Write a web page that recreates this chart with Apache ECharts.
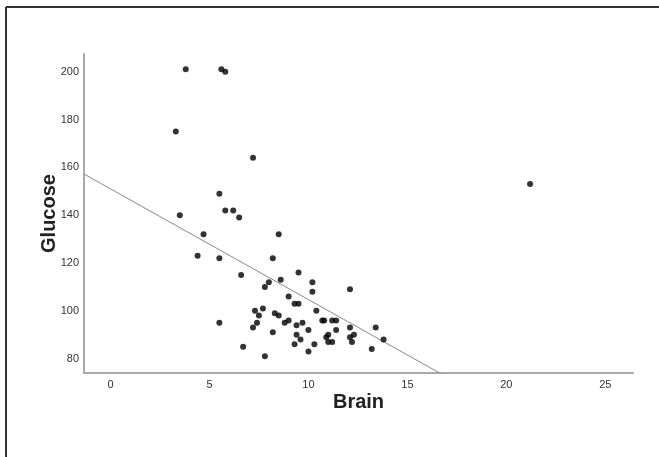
<!DOCTYPE html>
<html>
<head>
<meta charset="utf-8">
<script src="https://cdn.jsdelivr.net/npm/echarts@6/dist/echarts.min.js"></script>
<style>
  html, body { margin: 0; padding: 0; background: #fff; }
  #chart { width: 659px; height: 457px; }
</style>
</head>
<body>
<div id="chart"></div>
<script>
// Brain vs Glucose scatter
const brain = [
  3.8, 5.6, 5.8, 3.3, 7.2, 21.2, 5.5, 5.8, 6.2, 6.5,
  3.5, 4.7, 8.5, 4.4, 5.5, 8.2, 6.6, 9.5, 8.6, 8.0,
  7.8, 10.2, 10.2, 12.1, 9.0, 9.3, 9.5, 7.7, 7.3, 7.5,
  8.3, 8.5, 10.4, 9.0, 8.8, 9.7, 7.4, 5.5, 9.4, 10.7,
  10.8, 11.2, 11.4, 7.2, 8.2, 10.0, 11.4, 12.1, 13.4, 9.4,
  11.0, 10.9, 12.3, 12.1, 9.6, 13.8, 11.0, 11.2, 12.2, 9.3,
  10.3, 6.7, 13.2, 10.0, 7.8
];
const glucose = [
  201, 201, 200, 175, 164, 153, 149, 142, 142, 139,
  140, 132, 132, 123, 122, 122, 115, 116, 113, 112,
  110, 112, 108, 109, 106, 103, 103, 101, 100, 98,
  99, 98, 100, 96, 95, 95, 95, 95, 94, 96,
  96, 96, 96, 93, 91, 92, 92, 93, 93, 90,
  90, 89, 90, 89, 88, 88, 87, 87, 87, 86,
  86, 85, 84, 83, 81
];
const xTicks = [0, 5, 10, 15, 20, 25];
const yTicks = [80, 100, 120, 140, 160, 180, 200];

// fit line (as drawn in the original)
const fitIntercept = 151.0;
const fitSlope = -4.63;

const xMin = -1.34, xMax = 26.4;
const yMin = 74, yMax = 207.4;

const points = brain.map((b, i) => [b, glucose[i]]);
const fitLine = [xMin, xMax].map(x => [x, fitIntercept + fitSlope * x]);

const chart = echarts.init(document.getElementById('chart'));
const font = 'Liberation Sans, Arial, sans-serif';

chart.setOption({
  animation: false,
  backgroundColor: '#fff',
  grid: { left: 84, right: 26, top: 54, bottom: 84 },
  graphic: [
    { type: 'line', shape: { x1: 6, y1: 7, x2: 659, y2: 7 }, style: { stroke: '#333', lineWidth: 2 } },
    { type: 'line', shape: { x1: 6, y1: 7, x2: 6, y2: 457 }, style: { stroke: '#333', lineWidth: 2 } }
  ],
  xAxis: {
    type: 'value',
    min: xMin,
    max: xMax,
    name: 'Brain',
    nameLocation: 'middle',
    nameGap: 19,
    nameMoveOverlap: false,
    nameTextStyle: { fontFamily: font, fontSize: 20, fontWeight: 'bold', color: '#222', verticalAlign: 'top' },
    axisLine: { show: true, onZero: false, lineStyle: { color: '#aaa', width: 2 } },
    axisTick: { show: false },
    splitLine: { show: false },
    axisLabel: {
      customValues: xTicks,
      fontFamily: font, fontSize: 11, color: '#333', margin: 6
    }
  },
  yAxis: {
    type: 'value',
    min: yMin,
    max: yMax,
    name: 'Glucose',
    nameLocation: 'middle',
    nameGap: 25,
    nameMoveOverlap: false,
    nameTextStyle: { fontFamily: font, fontSize: 20, fontWeight: 'bold', color: '#222', verticalAlign: 'bottom' },
    axisLine: { show: true, onZero: false, lineStyle: { color: '#aaa', width: 2 } },
    axisTick: { show: false },
    splitLine: { show: false },
    axisLabel: {
      customValues: yTicks,
      fontFamily: font, fontSize: 11, color: '#333', margin: 5
    }
  },
  series: [
    {
      type: 'line',
      data: fitLine,
      clip: true,
      symbol: 'none',
      lineStyle: { color: '#888', width: 1 },
      z: 1
    },
    {
      type: 'scatter',
      data: points,
      symbolSize: 6,
      itemStyle: { color: '#000' },
      z: 2
    }
  ]
});
</script>
</body>
</html>
